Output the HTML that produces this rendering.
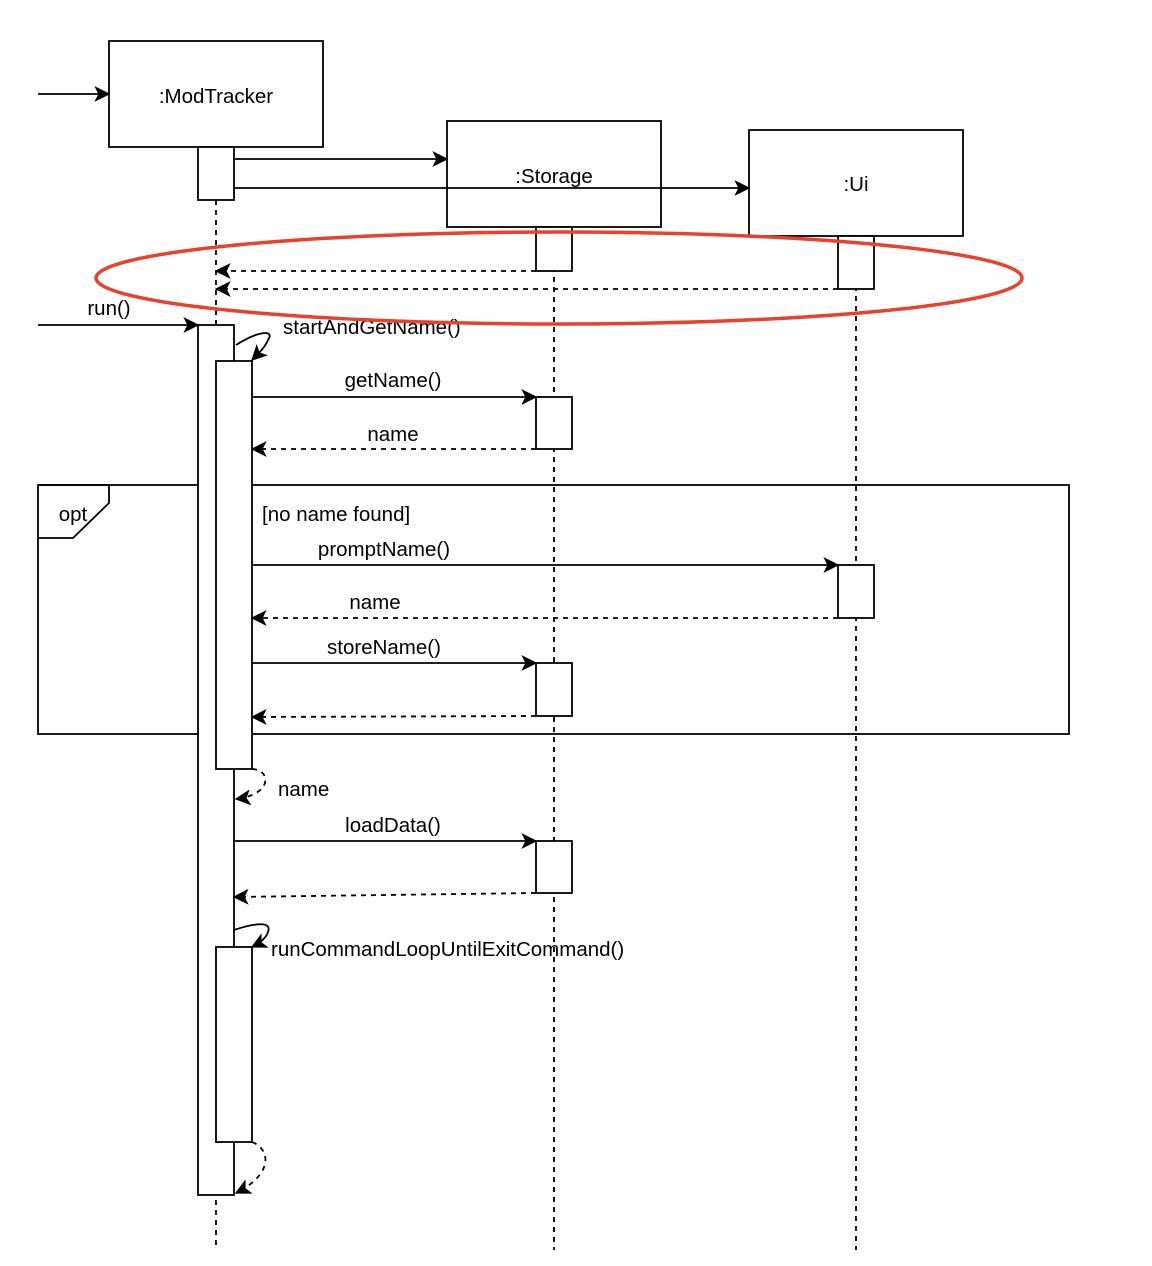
<!DOCTYPE html>
<html><head><style>body{margin:0;background:#fff}svg{display:block}text{font-family:"Liberation Sans",Arial,sans-serif;font-size:20.5px;fill:#000}</style></head>
<body>
<svg width="1152" height="1266" viewBox="0 0 1152 1266" xmlns="http://www.w3.org/2000/svg">
<defs>
<marker id="a" viewBox="0 0 12 12" refX="11" refY="6" markerWidth="16" markerHeight="16" markerUnits="userSpaceOnUse" orient="auto"><path d="M0,0 L12,6 L0,12 L3,6 Z" fill="#000"/></marker>
</defs>
<g fill="none" stroke="#000" stroke-width="1.8">
<path d="M216,200V1250M554,227V1250M856,236V1250" stroke-dasharray="5,5"/>
<rect x="38" y="485" width="1031" height="249"/>
<path d="M38,485H109V503L73,538H38"/>
<rect x="109" y="41" width="214" height="106" fill="#fff"/>
<rect x="447" y="121" width="214" height="106" fill="#fff"/>
<rect x="749" y="130" width="214" height="106" fill="#fff"/>
<rect x="198" y="147" width="36" height="53" fill="#fff"/>
<rect x="536" y="227" width="36" height="44" fill="#fff"/>
<rect x="838" y="236" width="36" height="53" fill="#fff"/>
<rect x="198" y="325" width="36" height="870" fill="#fff"/>
<rect x="216" y="361" width="36" height="408" fill="#fff"/>
<rect x="536" y="397" width="36" height="52" fill="#fff"/>
<rect x="838" y="565" width="36" height="53" fill="#fff"/>
<rect x="536" y="663" width="36" height="53" fill="#fff"/>
<rect x="536" y="841" width="36" height="52" fill="#fff"/>
<rect x="216" y="947" width="36" height="195" fill="#fff"/>
<g marker-end="url(#a)">
<path d="M38,94H109"/>
<path d="M234,159H447"/>
<path d="M234,188H749"/>
<path d="M38,325H198"/>
<path d="M252,397H536"/>
<path d="M252,565H838"/>
<path d="M252,663H536"/>
<path d="M234,841H536"/>
<path d="M236,345C260,330 275,330 268,340C265,347 260,352 252,360"/>
<path d="M234,930C258,922 272,922 268,932C266,938 260,943 252,947"/>
</g>
<g stroke-dasharray="5,5" marker-end="url(#a)">
<path d="M536,271H216"/>
<path d="M838,289H216"/>
<path d="M536,449H252"/>
<path d="M838,618H252"/>
<path d="M536,716L252,717"/>
<path d="M536,893L234,897"/>
<path d="M252,769C272,770 272,795 236,799"/>
<path d="M252,1142C272,1150 272,1175 236,1193"/>
</g>
</g>
<g>
<text x="216" y="103" text-anchor="middle">:ModTracker</text>
<text x="554" y="183" text-anchor="middle">:Storage</text>
<text x="856" y="191" text-anchor="middle">:Ui</text>
<text x="109" y="315" text-anchor="middle">run()</text>
<text x="283" y="334">startAndGetName()</text>
<text x="393" y="387" text-anchor="middle">getName()</text>
<text x="393" y="441" text-anchor="middle">name</text>
<text x="73" y="521" text-anchor="middle">opt</text>
<text x="262" y="521">[no name found]</text>
<text x="384" y="556" text-anchor="middle">promptName()</text>
<text x="375" y="609" text-anchor="middle">name</text>
<text x="384" y="654" text-anchor="middle">storeName()</text>
<text x="278" y="796">name</text>
<text x="393" y="832" text-anchor="middle">loadData()</text>
<text x="271" y="956">runCommandLoopUntilExitCommand()</text>
</g>
<ellipse cx="559" cy="278" rx="463" ry="46" fill="none" stroke="#e8412c" stroke-width="3.5"/>
</svg>
</body></html>
